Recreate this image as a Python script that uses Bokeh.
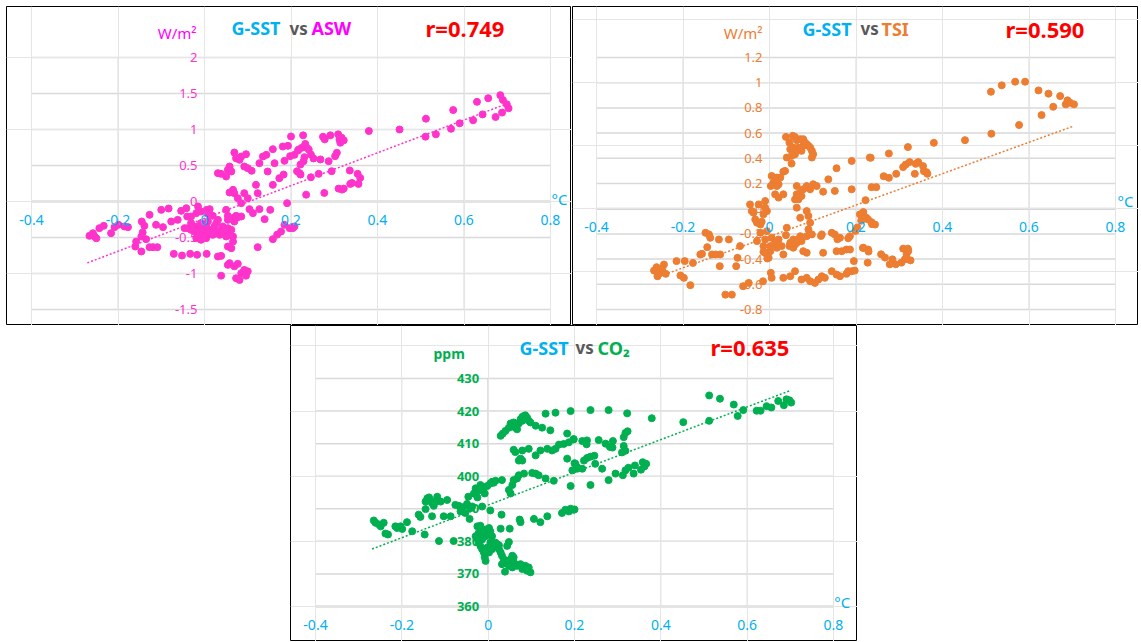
from bokeh.plotting import figure
from bokeh.models import ColumnDataSource, LabelSet, Label, Spacer, Range1d
from bokeh.layouts import row, column
from bokeh.core.properties import value
from bokeh.embed import file_html
from bokeh.resources import INLINE

FONT = "Noto Sans"
BLUE = "#00b0f0"
GRAY_TXT = "#595959"
PINK = "#ff33cc"
MAGENTA = "#ff00ff"
ORANGE = "#ed7d31"
GREEN = "#00b050"
RED = "#ff0000"
GRID_C = "#d9d9d9"
AXIS_C = "#bfbfbf"

# ---------------- ticks ----------------
x_ticks = [-0.4, -0.2, 0, 0.2, 0.4, 0.6, 0.8]
x_tick_labels = ["-0.4", "-0.2", "0", "0.2", "0.4", "0.6", "0.8"]
asw_ticks = [-1.5, -1, -0.5, 0, 0.5, 1, 1.5, 2]
asw_tick_labels = ["-1.5", "-1", "-0.5", "0", "0.5", "1", "1.5", "2"]
tsi_ticks = [-0.8, -0.6, -0.4, -0.2, 0, 0.2, 0.4, 0.6, 0.8, 1, 1.2]
tsi_tick_labels = ["-0.8", "-0.6", "-0.4", "-0.2", "0", "0.2", "0.4", "0.6", "0.8", "1", "1.2"]
co2_ticks = [360, 370, 380, 390, 400, 410, 420, 430]
co2_tick_labels = ["360", "370", "380", "390", "400", "410", "420", "430"]

# ---------------- G-SST vs ASW ----------------
asw_sst = [
    -0.266, -0.258, -0.250, -0.254, -0.243, -0.233, -0.216, -0.208, -0.199, -0.185,
    -0.177, -0.158, -0.160, -0.146, -0.146, -0.143, -0.145, -0.139, -0.135, -0.127,
    -0.127, -0.119, -0.112, -0.109, -0.100, -0.096, -0.083, -0.077, -0.071, -0.062,
    -0.054, -0.052, -0.046, -0.042, -0.040, -0.033, -0.031, -0.017, -0.015, 0.005,
    -0.0385, -0.031, -0.023, -0.019, -0.015, -0.012, -0.008, -0.004, 0.0, 0.0015,
    0.004, 0.008, 0.012, 0.015, 0.019, 0.023, 0.027, 0.031, 0.035, 0.0385,
    0.042, 0.046, 0.050, 0.054, 0.058, 0.062, 0.066, -0.031, -0.019, -0.008,
    0.008, 0.019, 0.031, 0.054, 0.066, -0.019, -0.008, 0.004, 0.012, -0.004,
    0.027, 0.054, 0.066, 0.069,
    0.031, 0.0385, 0.054, 0.058, 0.062, 0.054, 0.069, 0.077, 0.085, 0.092,
    0.096, 0.081, 0.0385, 0.073, 0.100,
    0.005, 0.012, 0.05, 0.073, 0.077, 0.085, 0.104, 0.112, 0.127, 0.139,
    0.152, 0.158, 0.123, 0.177, 0.185, 0.191, 0.197, 0.204, 0.208, 0.168,
    0.085, 0.1, 0.092, 0.077, 0.066, 0.069, 0.058, 0.119, 0.123, 0.158,
    0.031, 0.0385, 0.05, 0.054, 0.058, 0.062, 0.069, 0.073, 0.081, 0.085,
    0.096, 0.092, 0.1, 0.109, 0.127, 0.135, 0.143, 0.158, 0.162, 0.146,
    0.173, 0.181, 0.185, 0.193, 0.2, 0.208, 0.216, 0.22, 0.183, 0.198,
    0.214, 0.218, 0.222, 0.222, 0.225, 0.228, 0.229, 0.231, 0.233, 0.237,
    0.241, 0.235, 0.246, 0.246, 0.252, 0.264, 0.268, 0.274, 0.278, 0.277,
    0.287, 0.291, 0.294, 0.302, 0.306, 0.309, 0.312, 0.314, 0.317, 0.322,
    0.310, 0.318, 0.322, 0.336, 0.337, 0.341, 0.354, 0.356, 0.360, 0.380,
    0.451, 0.512, 0.511, 0.535, 0.570, 0.575, 0.590, 0.621, 0.630, 0.643,
    0.656, 0.673, 0.684, 0.690, 0.688, 0.699, 0.703,
]
asw = [
    -0.477, -0.44, -0.51, -0.486, -0.37, -0.338, -0.44, -0.356, -0.324, -0.347,
    -0.356, -0.556, -0.625, -0.694, -0.486, -0.43, -0.278, -0.338, -0.523, -0.185,
    -0.634, -0.634, -0.324, -0.634, -0.116, -0.356, -0.097, -0.278, -0.727, -0.255,
    -0.130, -0.75, -0.37, -0.093, -0.208, -0.727, -0.30, -0.74, -0.069, -0.727,
    -0.37, -0.394, -0.417, -0.347, -0.463, -0.37, -0.301, -0.394, -0.44, -0.486,
    -0.347, -0.278, -0.417, -0.394, -0.463, -0.347, -0.301, -0.417, -0.463, -0.394,
    -0.347, -0.44, -0.486, -0.370, -0.463, -0.394, -0.486, -0.208, -0.162, -0.139,
    -0.171, -0.199, -0.255, -0.255, -0.556, -0.509, -0.532, -0.509, -0.44, -0.463,
    -0.44, -0.199, -0.23, -0.278,
    -0.764, -0.755, -0.625, -0.856, -0.648, -0.88, -0.90, -0.866, -0.995, -0.95,
    -1.03, -1.09, -1.03, -1.065, -0.97,
    -0.116, -0.106, -0.116, -0.199, -0.218, -0.208, -0.106, -0.162, -0.106, -0.245,
    -0.116, -0.523, -0.634, -0.417, -0.324, -0.023, -0.37, -0.37, -0.347, -0.46,
    -0.023, 0.046, 0.116, 0.046, 0.162, 0.116, 0.125, 0.231, 0.116, 0.231,
    0.394, 0.384, 0.347, 0.44, 0.486, 0.417, 0.68, 0.60, 0.579, 0.625,
    0.657, 0.486, 0.463, 0.426, 0.532, 0.625, 0.648, 0.727, 0.532, 0.417,
    0.324, 0.764, 0.565, 0.773, 0.903, 0.648, 0.708, 0.394, 0.374, 0.63,
    0.42, 0.723, 0.374, 0.514, 0.747, 0.919, 0.56, 0.616, 0.80, 0.747,
    0.723, 0.095, 0.653, 0.337, 0.598, 0.384, 0.584, 0.90, 0.863, 0.119,
    0.56, 0.919, 0.421, 0.630, 0.677, 0.933, 0.863, 0.816, 0.886, 0.849,
    0.179, 0.165, 0.179, 0.43, 0.244, 0.258, 0.384, 0.244, 0.328, 0.979,
    1.0, 1.15, 0.90, 0.933, 1.01, 1.27, 1.086, 1.128, 1.384, 1.21,
    1.435, 1.174, 1.477, 1.41, 1.235, 1.35, 1.295,
]
asw_trend_x = [-0.271, 0.701]
asw_trend_y = [-0.853, 1.362]

# ---------------- G-SST vs TSI ----------------
tsi_sst = [
    -0.267, -0.261, -0.256, -0.252, -0.248, -0.240, -0.244, -0.259, -0.215, -0.206,
    -0.198, -0.196, -0.183, -0.177, -0.160, -0.156, -0.148, -0.140, -0.144, -0.137,
    -0.133, -0.125, -0.117, -0.115, -0.114, -0.102, -0.094, -0.087, -0.074, -0.077,
    -0.068, -0.061, -0.048, -0.045, -0.041, -0.037, -0.033, -0.029, -0.025, -0.021,
    -0.018, -0.021, -0.029, -0.014, -0.010, -0.006, -0.010, -0.006, -0.015, 0.003,
    0.005, -0.014, -0.006, -0.002, 0.002, -0.010, -0.005, 0.002, 0.005, 0.013,
    0.017, 0.021, 0.028, 0.032, 0.040, 0.038, 0.046, 0.051, 0.055, 0.048,
    0.059, 0.063, 0.055, 0.067, 0.071, 0.074, 0.078, 0.086, 0.086, 0.090,
    0.094, 0.098, 0.090, 0.086, 0.071, 0.063, 0.067, 0.059, 0.063, 0.071,
    0.074, 0.086, 0.094, 0.101, 0.109, 0.124, 0.078, 0.063, 0.005, 0.009,
    0.021, 0.017, 0.013, 0.021, 0.032, -0.010, -0.014, 0.032, 0.048, 0.059,
    0.074, 0.086, 0.094, 0.105, 0.113, 0.121, 0.128, 0.144, 0.155, 0.163,
    0.178, 0.182, 0.190, 0.197, 0.195, 0.155, 0.167, 0.178, 0.186, 0.217,
    0.144, 0.151, 0.163, 0.186, 0.124, 0.121, 0.151, 0.190, 0.136, 0.155,
    0.190, 0.232, 0.217, 0.224, 0.209, 0.038, 0.046, 0.054, 0.059, 0.063,
    0.071, 0.078, 0.082, 0.086, 0.090, 0.094, 0.098, 0.101, 0.098, 0.078,
    0.074, 0.067, 0.063, 0.059, 0.051, 0.040, 0.051, 0.048, 0.055, 0.032,
    0.036, 0.025, 0.017, 0.003, 0.222, 0.220, 0.228, 0.236, 0.244, 0.234,
    0.236, 0.247, 0.264, 0.276, 0.276, 0.293, 0.309, 0.315, 0.320, 0.324,
    0.336, 0.338, 0.344, 0.355, 0.357, 0.363, 0.365, 0.380, 0.452, 0.512,
    0.513, 0.537, 0.568, 0.591, 0.577, 0.622, 0.629, 0.645, 0.656, 0.672,
    0.685, 0.689, 0.695, 0.704, 0.216, 0.228, 0.309, 0.320, 0.317, 0.321,
    0.313, 0.326, 0.305, 0.258, 0.267, 0.284, 0.278, 0.292, 0.229, 0.227,
    0.119, 0.157, 0.182, 0.199, 0.203, 0.212, 0.237,
]
tsi = [
    -0.491, -0.464, -0.517, -0.496, -0.475, -0.517, -0.443, -0.536, -0.416, -0.530,
    -0.549, -0.416, -0.607, -0.430, -0.363, -0.358, -0.191, -0.204, -0.305, -0.231,
    -0.363, -0.363, -0.244, -0.456, -0.363, -0.682, -0.244, -0.682, -0.390, -0.456,
    -0.297, -0.615, -0.589, 0.034, -0.019, -0.032, -0.085, -0.111, 0.034, -0.125,
    -0.103, -0.191, -0.257, -0.297, -0.244, -0.178, 0.061, -0.019, -0.576, -0.509,
    -0.549, -0.342, -0.363, -0.390, -0.337, -0.350, -0.395, -0.297, -0.231, -0.271,
    -0.310, -0.244, -0.297, -0.363, -0.151, -0.210, -0.297, -0.284, -0.310, -0.271,
    -0.284, -0.271, -0.244, -0.244, -0.218, -0.257, -0.337, -0.350, -0.218, -0.164,
    -0.111, -0.204, -0.058, -0.019, -0.072, 0.008, 0.074, 0.074, 0.114, 0.127,
    0.101, 0.180, 0.154, 0.194, 0.180, 0.135, 0.154, 0.180, 0.260, 0.207,
    0.194, 0.247, 0.114, 0.088, 0.114, 0.008, -0.045, -0.549, -0.536, -0.496,
    -0.562, -0.549, -0.576, -0.589, -0.562, -0.536, -0.549, -0.496, -0.523, -0.536,
    -0.517, -0.496, -0.496, -0.491, -0.416, -0.337, -0.337, -0.324, -0.324, -0.310,
    -0.191, -0.204, -0.231, -0.218, -0.350, -0.204, 0.141, 0.154, 0.233, 0.321,
    0.379, 0.406, -0.027, -0.072, -0.045, 0.570, 0.525, 0.578, 0.570, 0.544,
    0.552, 0.552, 0.525, 0.512, 0.499, 0.485, 0.459, 0.432, 0.406, 0.499,
    0.459, 0.485, 0.459, 0.432, 0.419, 0.406, 0.358, 0.472, 0.485, 0.294,
    0.300, 0.247, 0.180, 0.180, 0.068, -0.073, -0.086, -0.107, -0.126, 0.404,
    0.171, 0.171, 0.258, 0.245, 0.438, 0.277, 0.330, 0.351, 0.489, 0.370,
    0.277, 0.356, 0.370, 0.338, 0.298, 0.290, 0.277, 0.523, 0.544, 0.928,
    0.595, 0.979, 1.008, 1.008, 0.664, 0.939, 0.743, 0.913, 0.809, 0.894,
    0.828, 0.860, 0.841, 0.828, -0.311, -0.324, -0.317, -0.317, -0.362, -0.335,
    -0.402, -0.41, -0.428, -0.362, -0.388, -0.402, -0.441, -0.441, -0.34, -0.428,
    -0.216, -0.242, -0.234, -0.176, -0.149, -0.096, -0.123,
]
tsi_trend_x = [-0.252, 0.701]
tsi_trend_y = [-0.534, 0.653]

# ---------------- G-SST vs CO2 ----------------
co2_sst = [
    -0.265, -0.261, -0.253, -0.249, -0.242, -0.238, -0.232, -0.215, -0.211, -0.203,
    -0.199, -0.188, -0.176, -0.161, -0.157, -0.147, -0.145, -0.145, -0.141, -0.137,
    -0.134, -0.130, -0.126, -0.122, -0.130, -0.118, -0.114, -0.110, -0.103, -0.095,
    -0.087, -0.080, -0.076, -0.068, -0.064, -0.060, -0.053, -0.049, -0.046, -0.043,
    -0.041, -0.037, -0.033, -0.029, -0.025, -0.022, -0.018, -0.014, -0.010, -0.008,
    -0.002, 0.005, 0.009, 0.013, 0.017, 0.005, 0.032, 0.031, 0.048, 0.056,
    0.052, 0.059, 0.067, 0.071, 0.083, 0.102, 0.110, 0.117, 0.133, 0.152,
    0.191, 0.195, 0.179, 0.187, 0.198, 0.171, 0.137, 0.121, 0.106, 0.075,
    0.073, 0.050, 0.029, -0.025, -0.018, -0.022, -0.014, -0.010, -0.006, -0.002,
    0.002, 0.005, 0.009, 0.017, -0.029, -0.025, -0.022, -0.018, -0.014, -0.010,
    -0.008, -0.006, -0.002, 0.002, 0.005, 0.009, 0.013, 0.021, 0.025, 0.029,
    0.032, 0.036, 0.040, 0.044, 0.048, 0.052, 0.056, 0.059, 0.063, 0.067,
    0.075, 0.079, 0.086, 0.090, 0.094, 0.098, 0.048, 0.044, 0.039, 0.056,
    0.032, 0.025, -0.006, -0.014, 0.059, 0.029, 0.034, 0.040, 0.048, 0.052,
    0.056, 0.059, 0.063, 0.067, 0.071, 0.075, 0.079, 0.083, 0.086, 0.090,
    0.094, 0.098, 0.079, 0.110, 0.125, 0.144, 0.133, 0.156, 0.191, 0.183,
    0.187, 0.198, 0.175, 0.164, 0.156, 0.148, 0.137, 0.121, 0.110, 0.094,
    0.079, 0.071, 0.063, 0.059, 0.075, 0.079, 0.183, 0.202, 0.206, 0.237,
    0.279, 0.322, 0.379, 0.452, 0.512, 0.537, 0.512, 0.569, 0.578, 0.591,
    0.622, 0.631, 0.645, 0.656, 0.672, 0.685, 0.691, 0.698, 0.702, 0.198,
    0.218, 0.229, 0.228, 0.256, 0.272, 0.282, 0.289, 0.288, 0.314, 0.318,
    0.323, 0.314, 0.310, 0.318, 0.200, 0.206, 0.218, 0.222, 0.229, 0.237,
    0.246, 0.248, 0.264, 0.237, 0.279, 0.295, 0.312, 0.318, 0.325, 0.337,
    0.340, 0.354, 0.358, 0.366, 0.362, 0.191, 0.200,
]
co2 = [
    386.4, 385.7, 385.2, 384.6, 385.7, 382.4, 382.1, 384.6, 384.1, 384.6,
    383.8, 385.9, 383.1, 388.2, 387.5, 382.1, 389.9, 392.2, 393.2, 393.5,
    392.7, 391.7, 390.9, 392.2, 387.7, 393.7, 380.1, 392.2, 387.7, 392.7,
    387.7, 380.1, 391.2, 390.9, 389.2, 390.5, 388.7, 391.5, 393.7, 386.9,
    390.2, 390.7, 394.7, 396.3, 393.5, 395.6, 397.3, 390.7, 396.6, 394.7,
    397.0, 397.8, 398.3, 398.0, 398.6, 389.5, 398.8, 388.2, 395.8, 397.3,
    394.7, 398.8, 399.3, 400.3, 400.8, 401.0, 400.8, 400.3, 399.3, 398.6,
    397.0, 401.8, 389.7, 389.2, 389.7, 388.7, 387.7, 385.9, 386.9, 385.9,
    386.7, 383.9, 383.9, 384.6, 384.8, 382.6, 383.1, 382.1, 383.6, 382.6,
    384.1, 383.1, 381.6, 379.6, 381.6, 380.8, 379.6, 378.6, 377.6, 376.6,
    375.1, 374.0, 378.1, 376.6, 379.6, 377.6, 378.6, 379.1, 377.6, 376.6,
    375.6, 374.5, 373.5, 374.0, 372.5, 374.5, 372.0, 373.5, 373.0, 372.5,
    373.0, 371.5, 372.5, 371.0, 372.0, 370.5, 379.8, 378.6, 370.7, 375.6,
    373.0, 378.8, 381.6, 380.6, 375.1, 412.4, 413.1, 413.9, 414.9, 416.2,
    415.5, 416.5, 414.9, 414.4, 416.2, 417.5, 418.2, 418.5, 418.7, 418.0,
    417.0, 416.5, 417.0, 415.5, 414.9, 414.1, 419.2, 419.5, 420.0, 413.1,
    410.4, 411.4, 409.9, 409.7, 408.4, 407.9, 408.4, 407.9, 406.4, 408.4,
    407.9, 404.8, 407.4, 408.1, 405.4, 404.8, 405.4, 403.8, 402.3, 420.3,
    420.3, 419.3, 417.8, 416.6, 424.8, 423.8, 417.0, 422.0, 418.5, 420.3,
    420.1, 420.1, 421.5, 421.1, 423.1, 421.8, 423.6, 423.3, 422.6, 411.3,
    410.8, 411.0, 409.8, 411.1, 410.0, 409.0, 410.8, 408.8, 412.0, 413.3,
    413.8, 409.3, 407.3, 407.8, 404.0, 402.8, 402.3, 404.8, 405.6, 406.0,
    406.3, 403.8, 402.3, 397.3, 398.8, 400.8, 400.3, 401.8, 402.6, 400.8,
    403.3, 402.0, 404.3, 403.8, 403.0, 390.0, 389.8,
]
co2_trend_x = [-0.269, 0.701]
co2_trend_y = [377.65, 426.35]


def ext_range(lo, hi, span_px, before_px, after_px):
    s = (hi - lo) / span_px
    return Range1d(lo - before_px * s, hi + after_px * s)


def grid_lines(p, dim, ticks, cross, color, width):
    n = len(ticks)
    if dim == 0:
        p.segment(x0=ticks, y0=[cross[0]] * n, x1=ticks, y1=[cross[1]] * n,
                  line_color=color, line_width=width, level="underlay")
    else:
        p.segment(x0=[cross[0]] * n, y0=ticks, x1=[cross[1]] * n, y1=ticks,
                  line_color=color, line_width=width, level="underlay")


def make_panel(width, height, area_w, area_h, margins, y_lo, y_hi, y_ticks, y_tick_labels,
               y_lab_x, x_lab_y, y_color, y_bold, h_axis_at):
    left, right, top, bottom = margins
    p = figure(width=width, height=height,
               x_range=ext_range(-0.4, 0.8, area_w, left, right),
               y_range=ext_range(y_lo, y_hi, area_h, bottom, top),
               output_backend="svg", toolbar_location=None, title=None,
               x_axis_location=None, y_axis_location=None,
               min_border_left=0, min_border_right=0, min_border_top=0, min_border_bottom=0,
               background_fill_color="white", border_fill_color="white")
    p.outline_line_color = "black"
    p.outline_line_width = 1
    grid_lines(p, 0, x_ticks, (y_lo, y_hi), GRID_C, 1)
    grid_lines(p, 1, y_ticks, (-0.4, 0.8), GRID_C, 1.5)
    grid_lines(p, 0, [0], (y_lo, y_hi), AXIS_C, 1)
    grid_lines(p, 1, [h_axis_at], (-0.4, 0.8), "#cfcfcf", 2)
    xs = ColumnDataSource(dict(x=x_ticks, y=[x_lab_y] * len(x_ticks), t=x_tick_labels))
    p.add_layout(LabelSet(x="x", y="y", text="t", source=xs, text_align="center",
                          text_baseline="middle", text_color=BLUE,
                          text_font=value(FONT), text_font_size="14px", level="glyph"))
    ys = ColumnDataSource(dict(x=[y_lab_x] * len(y_ticks), y=y_ticks, t=y_tick_labels))
    p.add_layout(LabelSet(x="x", y="y", text="t", source=ys, text_align="right",
                          text_baseline="middle", text_color=y_color,
                          text_font=value(FONT), text_font_size="13px",
                          text_font_style="bold" if y_bold else "normal",
                          level="glyph"))
    return p


def add_label(p, x, y, text, color, size, bold=True, align="left"):
    p.add_layout(Label(x=x, y=y, text=text, text_color=color, text_font=FONT,
                       text_font_size=size, text_font_style="bold" if bold else "normal",
                       text_align=align, text_baseline="middle"))


# ---- panel 1: ASW ----
p1 = make_panel(565, 319, 519, 252, (25, 21, 51, 16), -1.5, 2, asw_ticks, asw_tick_labels,
                -0.0162, -0.25, PINK, False, 0)
p1.line(asw_trend_x, asw_trend_y, line_color=PINK, line_width=1.5, line_dash="2 2")
p1.scatter(asw_sst, asw, size=7, fill_color=PINK, line_color=PINK)
add_label(p1, 0.0624, 2.403, "G-SST", BLUE, "18px")
add_label(p1, 0.1965, 2.403, "vs", GRAY_TXT, "17px")
add_label(p1, 0.2474, 2.403, "ASW", MAGENTA, "18px")
add_label(p1, 0.511, 2.403, "r=0.749", RED, "22px")
add_label(p1, -0.0185, 2.347, "W/m²", MAGENTA, "15px", bold=False, align="right")
add_label(p1, 0.8023, 0.03, "°C", BLUE, "15px", bold=False)

# ---- panel 2: TSI ----
p2 = make_panel(566, 319, 519, 252, (24, 23, 51, 16), -0.8, 1.2, tsi_ticks, tsi_tick_labels,
                -0.0162, -0.147, ORANGE, False, 0)
p2.line(tsi_trend_x, tsi_trend_y, line_color=ORANGE, line_width=1.5, line_dash="2 2")
p2.scatter(tsi_sst, tsi, size=7, fill_color=ORANGE, line_color=ORANGE)
add_label(p2, 0.0763, 1.43, "G-SST", BLUE, "18px")
add_label(p2, 0.2104, 1.43, "vs", GRAY_TXT, "17px")
add_label(p2, 0.259, 1.43, "TSI", ORANGE, "18px")
add_label(p2, 0.5457, 1.43, "r=0.590", RED, "22px")
add_label(p2, -0.0162, 1.398, "W/m²", ORANGE, "15px", bold=False, align="right")
add_label(p2, 0.8046, 0.065, "°C", BLUE, "15px", bold=False)

# ---- panel 3: CO2 ----
p3 = make_panel(567, 316, 518, 228, (25, 24, 53, 35), 360, 430, co2_ticks, co2_tick_labels,
                -0.0208, 354.2, GREEN, True, 360)
p3.line(co2_trend_x, co2_trend_y, line_color=GREEN, line_width=1.5, line_dash="2 2")
p3.scatter(co2_sst, co2, size=7, fill_color=GREEN, line_color=GREEN)
add_label(p3, 0.0726, 439.5, "G-SST", BLUE, "18px")
add_label(p3, 0.2023, 439.5, "vs", GRAY_TXT, "17px")
add_label(p3, 0.2533, 439.5, "CO₂", GREEN, "18px")
add_label(p3, 0.515, 439.6, "r=0.635", RED, "22px")
add_label(p3, -0.1267, 437.7, "ppm", GREEN, "14px")
add_label(p3, 0.802, 361.3, "°C", BLUE, "15px", bold=False)

layout = column(
    Spacer(width=1138, height=6),
    row(Spacer(width=6, height=319), p1, Spacer(width=1, height=319), p2),
    row(Spacer(width=290, height=316), p3),
)

open("out.html", "w").write(file_html(layout, INLINE))
